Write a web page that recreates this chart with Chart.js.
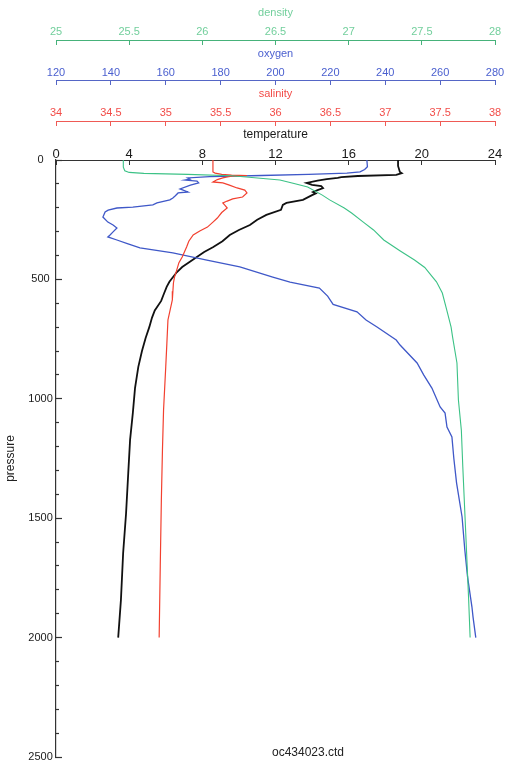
<!DOCTYPE html>
<html>
<head>
<meta charset="utf-8">
<title>oc434023.ctd</title>
<script src="https://cdn.jsdelivr.net/npm/chart.js@4.4.1/dist/chart.umd.min.js"></script>
<style>
  html, body { margin: 0; padding: 0; background: #fff; }
  #wrap { position: relative; width: 507px; height: 770px; }
  #file-label {
    position: absolute; left: 308px; top: 745px; transform: translateX(-50%);
    font: 12px "Liberation Sans", Arial, sans-serif; color: #222; white-space: nowrap;
  }
</style>
</head>
<body>
<div id="wrap">
  <canvas id="ctd-chart" width="507" height="770"></canvas>
  <div id="file-label">oc434023.ctd</div>
</div>
<script>
// profile values (pressure in dbar)
const tempPressure = [0, 25, 50, 55, 62, 67, 72, 75, 80, 86, 96, 104, 109, 118, 126, 134, 140, 147, 167, 180, 188, 209, 230, 250, 272, 293, 314, 340, 364, 385, 406, 427, 448, 470, 490, 510, 531, 560, 590, 630, 660, 700, 745, 800, 866, 955, 1060, 1172, 1311, 1480, 1647, 1842, 2000];
const temperature = [18.7, 18.7, 18.8, 18.9, 18.6, 16.5, 15.6, 15.4, 14.8, 14.3, 13.7, 14.0, 14.5, 14.6, 14.3, 14.05, 14.2, 14.0, 13.5, 12.6, 12.4, 12.3, 11.5, 11.0, 10.6, 10.0, 9.5, 9.1, 8.6, 8.1, 7.7, 7.3, 6.9, 6.6, 6.4, 6.2, 6.05, 5.9, 5.75, 5.4, 5.25, 5.1, 4.9, 4.7, 4.5, 4.32, 4.2, 4.05, 3.95, 3.83, 3.67, 3.55, 3.4];

const salPressure = [0, 25, 50, 55, 60, 63, 65, 68, 72, 75, 82, 92, 96, 105, 117, 126, 138, 155, 163, 172, 180, 190, 201, 220, 243, 260, 281, 297, 314, 340, 364, 385, 406, 430, 461, 490, 515, 550, 586, 670, 770, 866, 1047, 1214, 1424, 1700, 2000];
const salinity = [35.43, 35.43, 35.43, 35.45, 35.51, 35.6, 35.74, 35.6, 35.55, 35.52, 35.47, 35.43, 35.52, 35.58, 35.65, 35.72, 35.74, 35.70, 35.61, 35.56, 35.52, 35.54, 35.56, 35.51, 35.47, 35.43, 35.38, 35.31, 35.25, 35.21, 35.19, 35.17, 35.15, 35.12, 35.10, 35.08, 35.07, 35.065, 35.06, 35.02, 35.01, 35.0, 34.98, 34.97, 34.96, 34.95, 34.94];

const oxyPressure = [0, 28, 40, 50, 55, 60, 65, 70, 75, 80, 84, 88, 96, 105, 121, 134, 138, 150, 159, 167, 180, 188, 197, 201, 210, 218, 239, 260, 272, 285, 301, 314, 322, 335, 350, 368, 389, 419, 448, 490, 511, 536, 570, 605, 636, 670, 699, 754, 775, 850, 900, 955, 1034, 1060, 1118, 1160, 1250, 1353, 1495, 1633, 1746, 1872, 1914, 2000];
const oxygen = [233.3, 233.5, 232.5, 230.8, 226, 212, 195, 176, 168, 168.8, 167, 171.4, 172, 169, 165.2, 168.1, 164.5, 163.5, 162.6, 161.5, 156.8, 155.3, 148, 142.2, 139, 137.9, 137.1, 138.9, 140.8, 142.2, 140.8, 139.7, 138.9, 142.2, 146, 150.6, 162.6, 175, 187, 199, 205.3, 216, 219, 221, 229.7, 233, 237, 244, 245.4, 251.6, 254, 257, 260, 261.8, 262.5, 264.3, 265, 266, 268, 269, 270, 271.6, 272, 273];

const densPressure = [0, 30, 45, 52, 56, 60, 66, 71, 84, 97, 113, 147, 167, 201, 222, 260, 293, 335, 380, 419, 450, 473, 510, 557, 628, 700, 741, 850, 1005, 1131, 1285, 1562, 1842, 2000];
const density = [25.46, 25.46, 25.47, 25.5, 25.6, 25.9, 26.2, 26.3, 26.53, 26.62, 26.72, 26.82, 26.87, 26.97, 27.02, 27.1, 27.17, 27.24, 27.35, 27.45, 27.52, 27.55, 27.6, 27.64, 27.67, 27.7, 27.71, 27.74, 27.75, 27.77, 27.78, 27.8, 27.82, 27.83];

// axis ranges: [min, max, step]
const tempRange = [0, 24, 4];
const salRange = [34, 38, 0.5];
const oxyRange = [120, 280, 20];
const densRange = [25, 28, 0.5];
const pressureRange = [0, 2500, 100];

const FONT = '"Liberation Sans", Arial, Helvetica, sans-serif';

function profile(pressure, values) {
  return values.map((v, i) => ({ x: v, y: pressure[i] }));
}

function topAxis(o) {
  return {
    type: 'linear',
    position: 'top',
    weight: o.weight,
    min: o.range[0],
    max: o.range[1],
    afterFit: s => { s.height = o.height; s.paddingLeft = 0; s.paddingRight = 0; },
    border: { display: true, color: o.lineColor, width: 1 },
    grid: { drawOnChartArea: false, drawTicks: true, tickLength: -5, tickColor: o.lineColor, tickWidth: 1 },
    ticks: {
      stepSize: o.range[2],
      autoSkip: false,
      maxRotation: 0,
      padding: o.tickPad,
      color: o.color,
      font: { family: FONT, size: o.tickSize },
      callback: v => String(+v.toFixed(2))
    },
    title: {
      display: true,
      text: o.title,
      color: o.color,
      font: { family: FONT, size: o.titleSize },
      padding: { top: o.titlePad, bottom: 0 }
    }
  };
}

const ctx = document.getElementById('ctd-chart').getContext('2d');
new Chart(ctx, {
  type: 'line',
  data: {
    datasets: [
      { label: 'density', data: profile(densPressure, density), xAxisID: 'xDens', yAxisID: 'y',
        borderColor: '#3cc286', borderWidth: 1.1 },
      { label: 'salinity', data: profile(salPressure, salinity), xAxisID: 'xSal', yAxisID: 'y',
        borderColor: '#f2402f', borderWidth: 1.2 },
      { label: 'oxygen', data: profile(oxyPressure, oxygen), xAxisID: 'xOxy', yAxisID: 'y',
        borderColor: '#3f58c8', borderWidth: 1.3 },
      { label: 'temperature', data: profile(tempPressure, temperature), xAxisID: 'xTemp', yAxisID: 'y',
        borderColor: '#111111', borderWidth: 1.8 }
    ]
  },
  options: {
    responsive: false,
    animation: false,
    events: [],
    elements: { point: { radius: 0 }, line: { tension: 0, fill: false } },
    layout: { padding: { left: 0, top: 0, right: 12, bottom: 13 } },
    plugins: { legend: { display: false }, tooltip: { enabled: false }, title: { display: false } },
    scales: {
      xDens: topAxis({ title: 'density', range: densRange, weight: 3, height: 40,
        color: '#72cf9c', lineColor: '#46b27a', tickSize: 11, titleSize: 11, tickPad: 6.9, titlePad: 6.4 }),
      xOxy: topAxis({ title: 'oxygen', range: oxyRange, weight: 2, height: 40,
        color: '#4a5fcf', lineColor: '#5566c6', tickSize: 11, titleSize: 11, tickPad: 5.4, titlePad: 7.4 }),
      xSal: topAxis({ title: 'salinity', range: salRange, weight: 1, height: 41,
        color: '#f24c48', lineColor: '#ef5a55', tickSize: 11, titleSize: 11, tickPad: 6.4, titlePad: 7.4 }),
      xTemp: topAxis({ title: 'temperature', range: tempRange, weight: 0, height: 39,
        color: '#1a1a1a', lineColor: '#333333', tickSize: 13, titleSize: 12, tickPad: 3.2, titlePad: 6.8 }),
      y: {
        type: 'linear',
        position: 'left',
        reverse: true,
        min: pressureRange[0],
        max: pressureRange[1],
        afterFit: s => { s.width = 56; s.paddingTop = 0; s.paddingBottom = 0; },
        border: { display: true, color: '#333333', width: 1.2 },
        grid: {
          drawOnChartArea: false,
          drawTicks: true,
          tickLength: -6,
          tickColor: '#333333',
          tickWidth: 1.2,
          tickBorderDash: c => (c.tick && c.tick.value % 500 === 0) ? [] : [3, 3],
          tickBorderDashOffset: c => (c.tick && c.tick.value % 500 === 0) ? 0 : 3
        },
        ticks: {
          stepSize: pressureRange[2],
          autoSkip: false,
          crossAlign: 'center',
          padding: 9.25,
          color: '#1a1a1a',
          font: { family: FONT, size: 11 },
          callback: v => (v % 500 === 0 ? String(v) : '')
        },
        title: {
          display: true,
          text: 'pressure',
          color: '#222222',
          font: { family: FONT, size: 12 },
          padding: { top: 3.8, bottom: 0 }
        }
      }
    }
  }
});
</script>
</body>
</html>
